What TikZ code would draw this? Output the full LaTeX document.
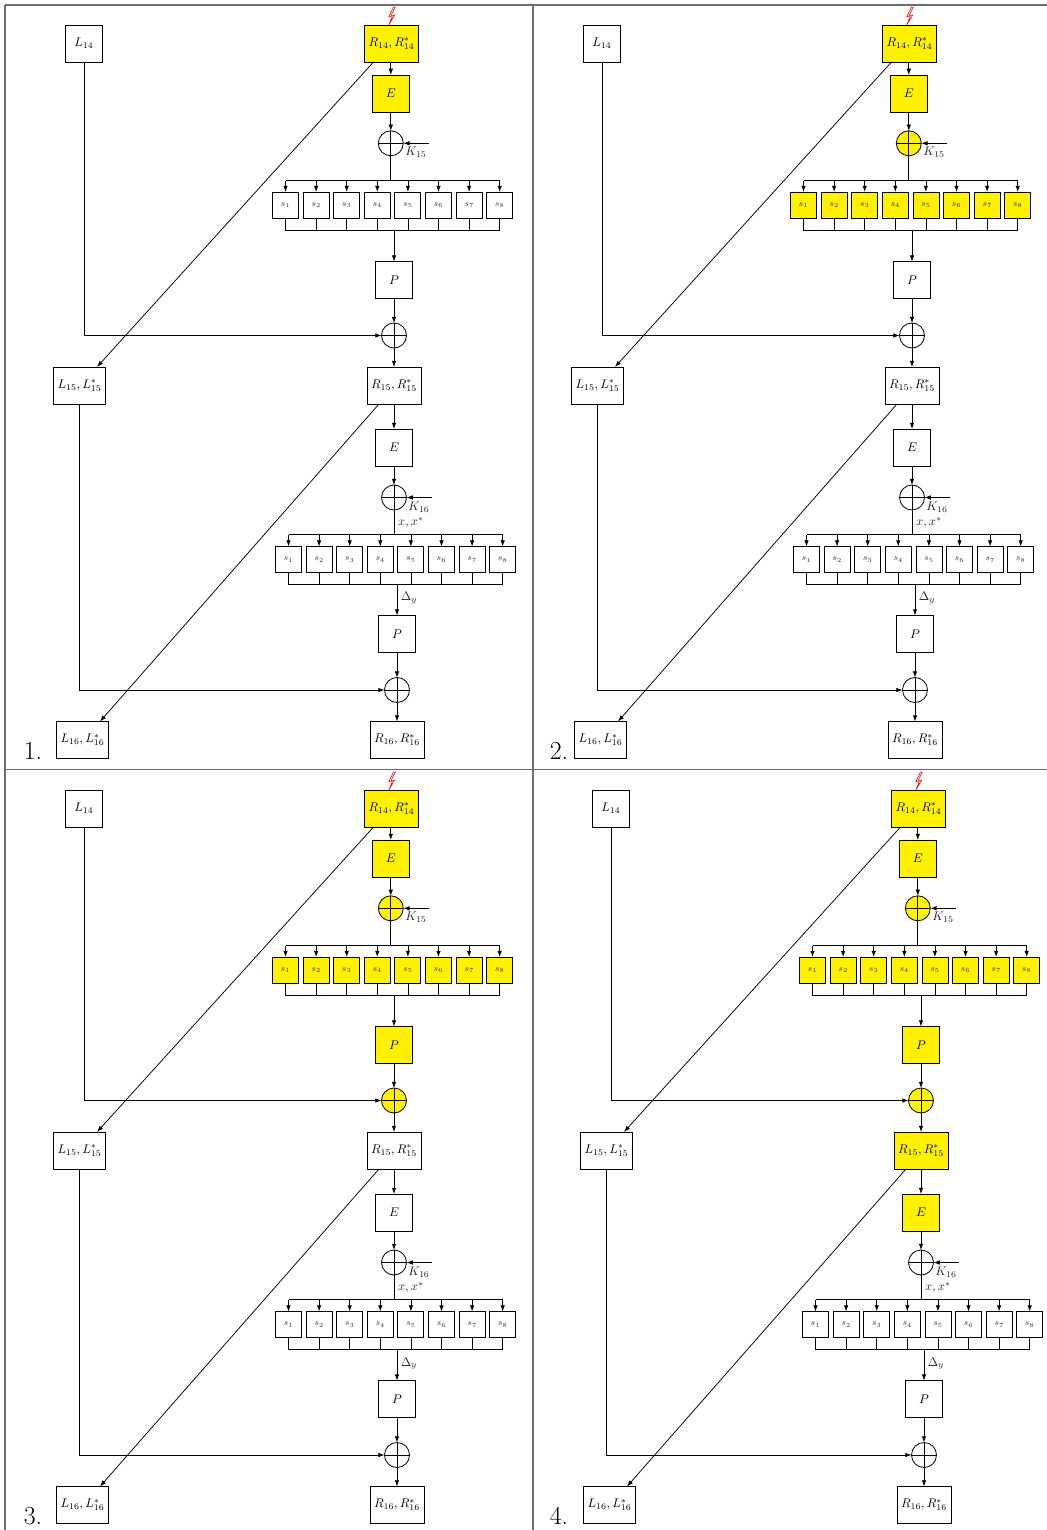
\documentclass[tikz,border=0pt]{standalone}
\usetikzlibrary{arrows.meta}
\definecolor{hl}{RGB}{255,241,0}
\definecolor{framec}{RGB}{110,110,110}
\tikzset{
  x=0.8pt,y=-0.8pt,
  conn/.style={line width=0.6pt,draw=black},
  arr/.style={conn,-{Latex[length=5pt,width=3.6pt]}},
  boxn/.style={draw=black,line width=0.65pt,minimum width=29.6pt,minimum height=29.6pt,inner sep=0pt,outer sep=0pt},
  wide/.style={boxn,minimum width=43.2pt},
  widel/.style={boxn,minimum width=41.6pt},
  sbox/.style={draw=black,line width=0.65pt,minimum width=20.8pt,minimum height=20.8pt,inner sep=0pt,outer sep=0pt,font=\scriptsize,text=black!80},
  xorn/.style={circle,draw=black,line width=0.65pt,minimum size=20pt,inner sep=0pt,outer sep=0pt},
  lab/.style={inner sep=0pt,text=black!85},
  numl/.style={inner sep=0pt,font=\huge},
  frameline/.style={draw=framec,line width=1.1pt},
  bolt/.style={draw=red,line width=0.45pt,fill=white,line join=miter}
}
% #1 prefix, #2 dx, #3 dy, #4 number, #5 level, #6 number x, #7 number y
\newcommand{\panelx}[7]{%
  \ifnum#5>0 \def\cA{hl}\else\def\cA{white}\fi
  \ifnum#5>1 \def\cB{hl}\else\def\cB{white}\fi
  \ifnum#5>2 \def\cC{hl}\else\def\cC{white}\fi
  \ifnum#5>3 \def\cD{hl}\else\def\cD{white}\fi
  \node[numl] (#1num) at (#6,#7) {#4.};
  \begin{scope}[shift={(#2,#3)}]
  \node[boxn] (#1L14) at (84,43.5) {$L_{14}$};
  \node[wide,fill=\cA] (#1R14) at (391.5,43.5) {$R_{14},R^*_{14}$};
  \node[boxn,fill=\cA] (#1E1) at (390.8,93.5) {$E$};
  \node[xorn,fill=\cB] (#1X1) at (390.8,143.3) {};
  \coordinate (#1K1) at (429,143.3);
  \node[lab] (#1K1l) at (416,152.5) {$K_{15}$};
  \coordinate (#1T1) at (390.8,180.5);
  \coordinate (#1B1) at (394,230.5);
  \node[boxn,fill=\cC] (#1P1) at (394,280) {$P$};
  \node[xorn,fill=\cC] (#1X2) at (394,335.5) {};
  \node[wide,fill=\cD] (#1R15) at (394,385.5) {$R_{15},R^*_{15}$};
  \node[widel] (#1L15) at (79.5,385.5) {$L_{15},L^*_{15}$};
  \node[boxn,fill=\cD] (#1E2) at (394,447.5) {$E$};
  \node[xorn] (#1X3) at (394,497.5) {};
  \coordinate (#1K2) at (432,497.5);
  \node[lab] (#1K2l) at (419,507) {$K_{16}$};
  \node[lab] (#1xl) at (411,522.5) {$x,x^*$};
  \coordinate (#1T2) at (394,534.5);
  \coordinate (#1B2) at (397,584.5);
  \node[lab] (#1dl) at (409,598.5) {$\Delta_y$};
  \node[boxn] (#1P2) at (397,634) {$P$};
  \node[xorn] (#1X4) at (397,690) {};
  \node[wide] (#1R16) at (397,740) {$R_{16},R^*_{16}$};
  \node[widel] (#1L16) at (82.5,740) {$L_{16},L^*_{16}$};
  % S-boxes
  \foreach \i in {1,...,8}{
    \pgfmathsetmacro{\sx}{285.5+30.6*(\i-1)}
    \node[sbox,fill=\cB] (#1s\i) at (\sx,205) {$s_{\i}$};
    \pgfmathsetmacro{\tx}{288.5+30.6*(\i-1)}
    \node[sbox] (#1t\i) at (\tx,559.5) {$s_{\i}$};
    \draw[arr] (#1T1 -| #1s\i) -- (#1s\i.north);
    \draw[conn] (#1s\i.south) -- (#1B1 -| #1s\i);
    \draw[arr] (#1T2 -| #1t\i) -- (#1t\i.north);
    \draw[conn] (#1t\i.south) -- (#1B2 -| #1t\i);
  }
  \draw[conn] (#1T1 -| #1s1) -- (#1T1 -| #1s8);
  \draw[conn] (#1B1 -| #1s1) -- (#1B1 -| #1s8);
  \draw[conn] (#1T2 -| #1t1) -- (#1T2 -| #1t8);
  \draw[conn] (#1B2 -| #1t1) -- (#1B2 -| #1t8);
  % vertical chain
  \draw[arr] (#1R14.south -| #1E1) -- (#1E1.north);
  \draw[arr] (#1E1.south) -- (#1X1.north);
  \draw[arr] (#1K1) -- (#1X1.east);
  \draw[conn] (#1X1.north) -- (#1X1.south);
  \draw[conn] (#1X1.west) -- (#1X1.east);
  \draw[conn] (#1X1.south) -- (#1T1);
  \draw[arr] (#1B1) -- (#1P1.north);
  \draw[arr] (#1P1.south) -- (#1X2.north);
  \draw[conn] (#1X2.north) -- (#1X2.south);
  \draw[conn] (#1X2.west) -- (#1X2.east);
  \draw[arr] (#1X2.south) -- (#1R15.north);
  \draw[arr] (#1R15.south) -- (#1E2.north);
  \draw[arr] (#1E2.south) -- (#1X3.north);
  \draw[arr] (#1K2) -- (#1X3.east);
  \draw[conn] (#1X3.north) -- (#1X3.south);
  \draw[conn] (#1X3.west) -- (#1X3.east);
  \draw[conn] (#1X3.south) -- (#1T2);
  \draw[arr] (#1B2) -- (#1P2.north);
  \draw[arr] (#1P2.south) -- (#1X4.north);
  \draw[conn] (#1X4.north) -- (#1X4.south);
  \draw[conn] (#1X4.west) -- (#1X4.east);
  \draw[arr] (#1X4.south) -- (#1R16.north);
  % left wires and diagonals
  \draw[arr] (#1L14.south) |- (#1X2.west);
  \draw[arr] (#1L15.south) |- (#1X4.west);
  \draw[arr] ([xshift=7.2pt]#1R14.south west) -- ([xshift=-6.8pt]#1L15.north east);
  \draw[arr] ([xshift=9.6pt]#1R15.south west) -- ([xshift=-6.8pt]#1L16.north east);
  % fault bolt
  \draw[bolt] (393.5,7) -- (388.8,16.8) -- (392.3,16.6) -- (388.8,25) -- (394.6,15.2) -- (391,15.4) -- (395.3,7.4) -- cycle;
  \end{scope}
}
\begin{document}
\begin{tikzpicture}
\useasboundingbox (0,0) rectangle (1047,1530);
\coordinate (fa) at (5,5);
\coordinate (fb) at (1047,5);
\coordinate (fc) at (5,1530);
\coordinate (fd) at (533,5);
\coordinate (fe) at (533,1530);
\coordinate (ff) at (5,769.5);
\coordinate (fg) at (1047,769.5);
\draw[frameline] (fa) -- (fb);
\draw[frameline] (fa) -- (fc);
\draw[frameline] (fd) -- (fe);
\draw[frameline] (ff) -- (fg);
\panelx{a}{0}{0}{1}{1}{33}{751}
\panelx{b}{518}{0}{2}{2}{559}{751}
\panelx{c}{0}{765}{3}{3}{33}{1516}
\panelx{d}{527}{765}{4}{4}{559}{1516}
\end{tikzpicture}
\end{document}
